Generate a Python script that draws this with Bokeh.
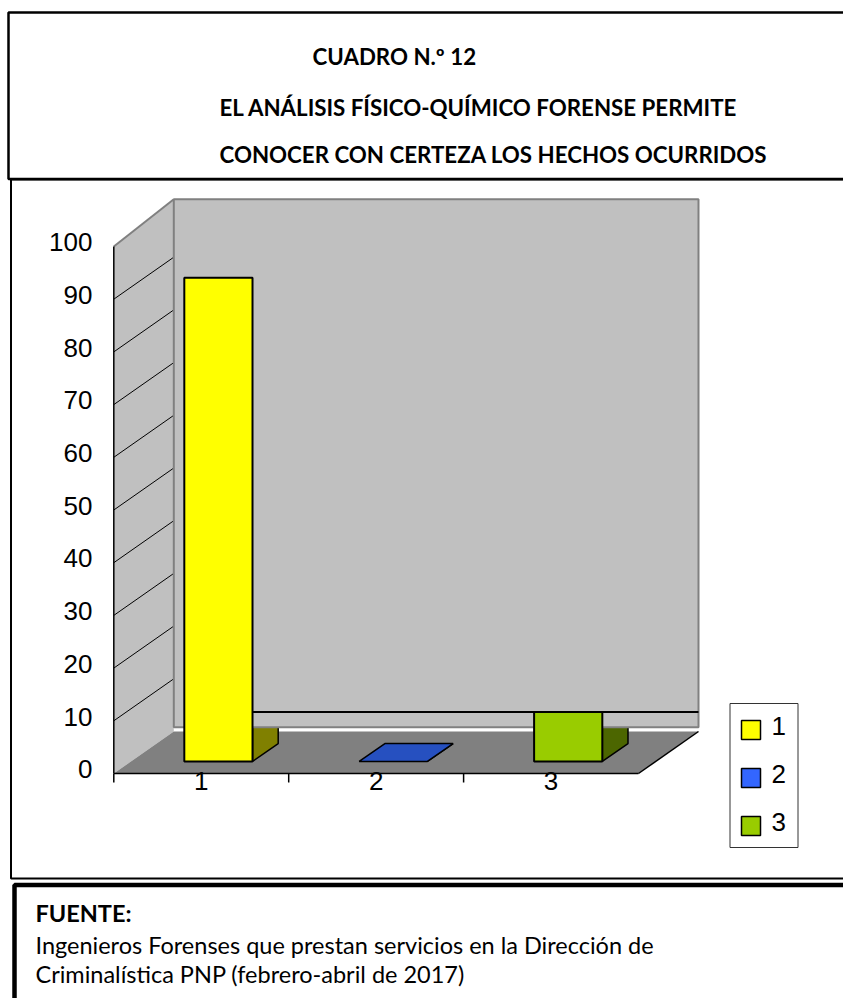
from bokeh.plotting import figure
from bokeh.models import Range1d, ColumnDataSource
from bokeh.core.properties import value
from bokeh.embed import file_html
from bokeh.resources import INLINE

# ---------------- data ----------------
categories = ["1", "2", "3"]
values = [91.8, 0.0, 9.4]
y_ticks = [0, 10, 20, 30, 40, 50, 60, 70, 80, 90, 100]
y_tick_labels = [str(t) for t in y_ticks]
front_colors = ["#FFFF00", "#2A50C4", "#99CC00"]
side_colors = ["#808000", "#1A3380", "#4C6600"]
top_colors = ["#BFBF00", "#2650C0", "#739900"]
legend_colors = ["#FFFF00", "#3366FF", "#99CC00"]
title_lines = ["CUADRO N.º 12",
               "EL ANÁLISIS FÍSICO-QUÍMICO FORENSE PERMITE",
               "CONOCER CON CERTEZA LOS HECHOS OCURRIDOS"]
source_title = "FUENTE:"
source_lines = ["Ingenieros Forenses que prestan servicios en la Dirección de",
                "Criminalística PNP (febrero-abril de 2017)"]

# ---------------- layout ----------------
W, H = 843, 998
PX_PER_VAL = 5.27
ZERO_PY = 773.0
CAT_PX = 174.9
LEFT_PX = 113.3


def X(px):
    return 0.5 + (px - LEFT_PX) / CAT_PX


def Y(py):
    return (ZERO_PY - py) / PX_PER_VAL


DX = 60.0 / CAT_PX        # depth offset, category units
DY = 42.0 / PX_PER_VAL    # depth offset, value units
F0, F1 = 0.286, 0.714     # bar depth span
BAR_W = 0.39
N = len(categories)
XMIN, XMAX = 0.5, N + 0.5
VMAX = 100

p = figure(width=W, height=H, x_range=Range1d(X(0), X(W)), y_range=Range1d(Y(H), Y(0)),
           output_backend="svg", toolbar_location=None, min_border=0,
           x_axis_location=None, y_axis_location=None)
p.grid.visible = False
p.outline_line_color = None
p.background_fill_color = "white"
p.border_fill_color = "white"

AX_FONT = value("Liberation Sans")
TI_FONT = value("Lato")

# --- frames
p.quad(left=[X(8)], right=[X(852)], top=[Y(12)], bottom=[Y(178.5)],
       fill_color=None, line_color="black", line_width=2.5)
p.quad(left=[X(10.5)], right=[X(852)], top=[Y(179)], bottom=[Y(878)],
       fill_color=None, line_color="black", line_width=2)
p.quad(left=[X(14)], right=[X(860)], top=[Y(884.5)], bottom=[Y(1010)],
       fill_color=None, line_color="black", line_width=4.5)

# --- side wall
p.patch([XMIN, XMIN, XMIN + DX, XMIN + DX], [0, VMAX, VMAX + DY + 1, DY],
        fill_color="#C0C0C0", line_color=None)
p.segment(x0=[XMIN], y0=[VMAX], x1=[XMIN + DX], y1=[VMAX + DY + 1],
          line_color="#808080", line_width=2)
grid = y_ticks[1:-1]
p.segment(x0=[XMIN] * len(grid), y0=grid, x1=[XMIN + DX] * len(grid),
          y1=[g + DY for g in grid], line_color="black", line_width=1)
p.segment(x0=[XMIN], y0=[0], x1=[XMIN], y1=[VMAX], line_color="black", line_width=1.5)

# --- floor
p.patch([XMIN, XMAX, XMAX + DX, XMIN + DX], [0, 0, DY, DY],
        fill_color="#808080", line_color=None)
p.segment(x0=[XMIN, XMAX], y0=[0, 0], x1=[XMAX, XMAX + DX], y1=[0, DY],
          line_color="black", line_width=1.5)
tick_x = [XMIN + k for k in range(N)]
p.segment(x0=tick_x, y0=[0] * N, x1=tick_x, y1=[Y(782)] * N, line_color="black", line_width=1.5)

# --- bars (hidden faces first)
side_xs, side_ys, top_xs, top_ys = [], [], [], []
fl, fr, fb, ft = [], [], [], []
for k, v in enumerate(values):
    c = k + 1
    xl, xr = c - BAR_W / 2, c + BAR_W / 2
    side_xs.append([xr + F0 * DX, xr + F1 * DX, xr + F1 * DX, xr + F0 * DX])
    side_ys.append([F0 * DY, F1 * DY, v + F1 * DY, v + F0 * DY])
    top_xs.append([xl + F0 * DX, xr + F0 * DX, xr + F1 * DX, xl + F1 * DX])
    top_ys.append([v + F0 * DY, v + F0 * DY, v + F1 * DY, v + F1 * DY])
    fl.append(xl + F0 * DX)
    fr.append(xr + F0 * DX)
    fb.append(F0 * DY)
    ft.append(v + F0 * DY)

side_src = ColumnDataSource(dict(xs=side_xs, ys=side_ys, c=side_colors))
top_src = ColumnDataSource(dict(xs=top_xs, ys=top_ys, c=top_colors))

p.patches("xs", "ys", source=side_src, fill_color="c", line_color="black", line_width=1.5)
p.patches("xs", "ys", source=top_src, fill_color="c", line_color="black", line_width=1.5)

# --- back wall
p.quad(left=[XMIN + DX], right=[XMAX + DX], bottom=[DY + 0.8], top=[VMAX + DY + 1],
       fill_color="#C0C0C0", line_color="#808080", line_width=2)
# line at level of third bar top
p.segment(x0=[fr[0]], y0=[ft[2]], x1=[XMAX + DX], y1=[ft[2]], line_color="black", line_width=2)

# --- bar front faces
nz = [k for k, v in enumerate(values) if v > 0]
front_nz = ColumnDataSource(dict(l=[fl[k] for k in nz], r=[fr[k] for k in nz],
                                 b=[fb[k] for k in nz], t=[ft[k] for k in nz],
                                 c=[front_colors[k] for k in nz]))
p.quad(left="l", right="r", bottom="b", top="t", source=front_nz,
       fill_color="c", line_color="black", line_width=2)

# --- axis labels
p.text(x=[X(92)] * len(y_ticks), y=[t + 0.8 for t in y_ticks], text=y_tick_labels,
       text_font=AX_FONT, text_font_size="26px", text_align="right",
       text_baseline="middle", text_color="black")
p.text(x=[k + 1 for k in range(N)], y=[Y(780)] * N, text=categories,
       text_font=AX_FONT, text_font_size="26px", text_align="center",
       text_baseline="middle", text_color="black")

# --- legend
p.quad(left=[X(729.5)], right=[X(797.5)], top=[Y(703)], bottom=[Y(847)],
       fill_color="white", line_color="#333333", line_width=1)
sw_c = [729.5 + 48 * k for k in range(N)]
p.quad(left=[X(741)] * N, right=[X(760)] * N, top=[Y(c - 9.5) for c in sw_c],
       bottom=[Y(c + 9.5) for c in sw_c], fill_color=legend_colors,
       line_color="black", line_width=1.5)
p.text(x=[X(771)] * N, y=[Y(c - 4) for c in sw_c], text=categories,
       text_font=AX_FONT, text_font_size="26px", text_align="left",
       text_baseline="middle", text_color="black")

# --- titles
p.text(x=[X(312), X(219), X(219)], y=[Y(56), Y(107), Y(154)], text=title_lines,
       text_font=TI_FONT, text_font_style="bold", text_font_size="22.3px",
       text_align="left", text_baseline="middle", text_color="black")

# --- source
p.text(x=[X(35)], y=[Y(912)], text=[source_title], text_font=TI_FONT,
       text_font_style="bold", text_font_size="23.5px", text_align="left",
       text_baseline="middle", text_color="black")
p.text(x=[X(35), X(35)], y=[Y(944), Y(973)], text=source_lines, text_font=TI_FONT,
       text_font_size="23.5px", text_align="left", text_baseline="middle", text_color="black")

open("out.html", "w").write(file_html(p, INLINE))
